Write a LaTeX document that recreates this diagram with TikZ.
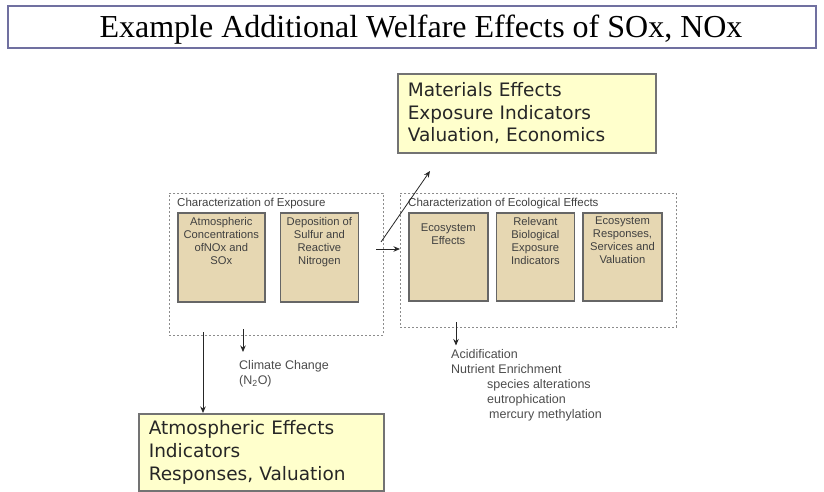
\documentclass[tikz,border=0pt]{standalone}
\usepackage{fontspec}
\setmainfont{Liberation Serif}
\newfontfamily\arialfont{Liberation Sans}
\newfontfamily\verdanafont{DejaVu Sans}
\usepackage{xcolor}
\usepackage{tikz}
\usetikzlibrary{arrows.meta, positioning}
\definecolor{tanfill}{RGB}{230,215,178}
\definecolor{paleyellow}{RGB}{255,255,204}
\definecolor{titleframe}{RGB}{112,112,160}
\tikzstyle{banner} = [rectangle, draw=titleframe, line width=1.3pt, minimum width=808pt, minimum height=42pt, inner sep=0pt]
\tikzstyle{bannertext} = [inner sep=0pt, text height=21.4pt, text depth=0pt, font=\fontsize{32}{36}\selectfont]
\tikzstyle{container} = [rectangle, draw=black!45, line width=0.9pt, dash pattern=on 2pt off 2pt, anchor=north west, inner sep=0pt]
\tikzstyle{stage} = [rectangle, draw=black!60, line width=1.6pt, fill=tanfill, anchor=north west, minimum height=89pt, inner sep=0pt]
\tikzstyle{stagetext} = [anchor=north, align=center, inner sep=0pt, text=black!75, font=\arialfont\fontsize{11.2}{12.9}\selectfont]
\tikzstyle{effect} = [rectangle, draw=black!55, line width=1.6pt, fill=paleyellow, anchor=north west, align=left, inner xsep=10pt, text=black!85, font=\verdanafont\fontsize{18.5}{22.7}\selectfont]
\tikzstyle{caption} = [anchor=west, inner sep=0pt, text=black!75, font=\arialfont\fontsize{11.5}{13}\selectfont]
\tikzstyle{note} = [anchor=north west, align=left, inner sep=0pt, text=black!70, font=\arialfont\fontsize{12.5}{15}\selectfont]
\tikzstyle{arrow} = [line width=0.8pt, draw=black!85, -{Stealth[length=6.5pt,width=5.5pt]}]

\begin{document}
\begin{tikzpicture}[x=1pt, y=-1pt]
    \useasboundingbox (0,0) rectangle (824,492);
    \node (title) [banner, label={[bannertext, xshift=9pt]center:Example Additional Welfare Effects of SOx, NOx}] at (412,27) {};

    \node (expo) [container, minimum width=214pt, minimum height=142pt] at (169,193) {};
    \node (eco) [container, minimum width=276pt, minimum height=134pt] at (400,193) {};
    \node (expocap) [caption] at (177,204) {Characterization of Exposure};
    \node (ecocap) [caption] at (408,204) {Characterization of Ecological Effects};

    \node (ac) [stage, minimum width=87pt, label={[stagetext, yshift=-5pt]north:Atmospheric\\Concentrations\\ofNOx and\\SOx}] at (177,212) {};
    \node (dep) [stage, minimum width=78pt, right=14pt of ac, label={[stagetext, yshift=-5pt]north:Deposition of\\Sulfur and\\Reactive\\Nitrogen}] {};
    \node (ee) [stage, minimum width=79pt, minimum height=88pt, label={[stagetext, yshift=-12pt]north:Ecosystem\\Effects}] at (408,212) {};
    \node (rbe) [stage, minimum width=78pt, minimum height=88pt, right=7pt of ee, label={[stagetext, yshift=-5pt]north:Relevant\\Biological\\Exposure\\Indicators}] {};
    \node (esr) [stage, minimum width=79pt, minimum height=88pt, right=7pt of rbe, label={[stagetext, yshift=-5pt]north:Ecosystem\\Responses,\\Services and\\Valuation}] {};

    \node (mat) [effect, text width=238pt, minimum height=79pt] at (397,73) {Materials Effects\\Exposure Indicators\\Valuation, Economics};
    \node (atm) [effect, text width=225pt, minimum height=77pt] at (138,413) {Atmospheric Effects\\Indicators\\Responses, Valuation};

    \node (clim) [note] at (239,360) {Climate Change\\(N\textsubscript{2}O)};
    \node (acid) [note] at (451,349.5) {Acidification\\Nutrient Enrichment\\\hspace*{36pt}species alterations\\\hspace*{36pt}eutrophication\\\hspace*{38pt}mercury methylation};

    \coordinate (hs) at (376,249);
    \coordinate (ds) at (381,242);
    \coordinate (de) at (430,171);
    \coordinate (cs) at (243,329);
    \coordinate (as) at (203,332);
    \coordinate (es) at (456,322);
    \draw[arrow] (hs) -- (hs -| eco.west);
    \draw[arrow] (ds) -- (de);
    \draw[arrow, shorten >=8pt] (cs) -- (cs |- clim.north);
    \draw[arrow] (as) -- (as |- atm.north);
    \draw[arrow, shorten >=4pt] (es) -- (es |- acid.north);
\end{tikzpicture}
\end{document}
